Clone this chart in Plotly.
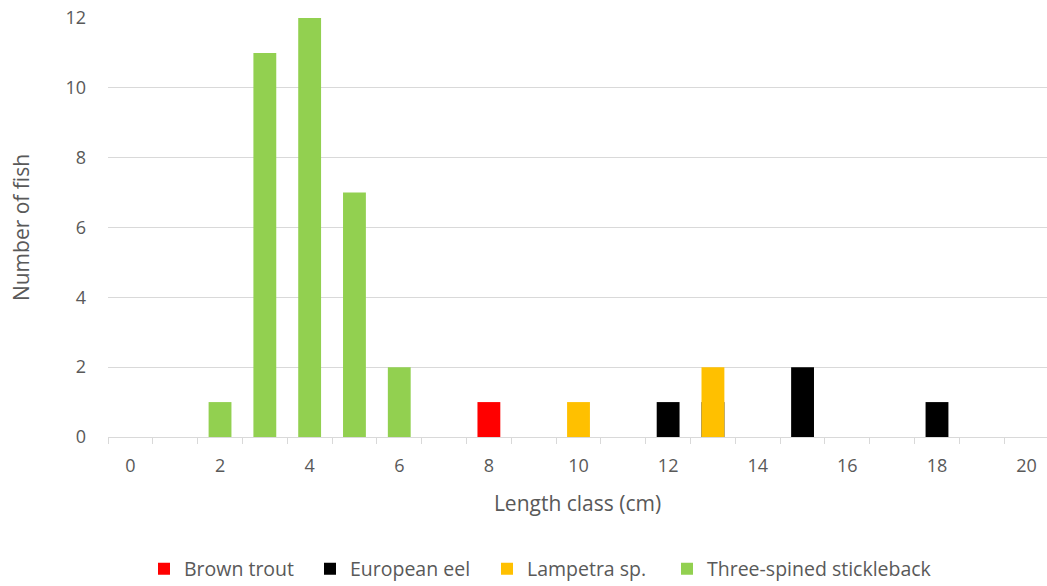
import plotly.graph_objects as go

# Length classes (cm) and counts per species
length_class = list(range(0, 21))
brown_trout = [0, 0, 0, 0, 0, 0, 0, 0, 1, 0, 0, 0, 0, 0, 0, 0, 0, 0, 0, 0, 0]
european_eel = [0, 0, 0, 0, 0, 0, 0, 0, 0, 0, 0, 0, 1, 1, 0, 2, 0, 0, 1, 0, 0]
lampetra = [0, 0, 0, 0, 0, 0, 0, 0, 0, 0, 1, 0, 0, 2, 0, 0, 0, 0, 0, 0, 0]
stickleback = [0, 0, 1, 11, 12, 7, 2, 0, 0, 0, 0, 0, 0, 0, 0, 0, 0, 0, 0, 0, 0]

x_tick_vals = list(range(0, 21, 2))
y_tick_vals = list(range(0, 13, 2))

series = [
    ("Brown trout", brown_trout, "#FF0000"),
    ("European eel", european_eel, "#000000"),
    ("Lampetra sp.", lampetra, "#FFC000"),
    ("Three-spined stickleback", stickleback, "#92D050"),
]

FONT = "Open Sans"
GREY = "#595959"
GRID = "#d9d9d9"
W, H = 1047, 586

# one single-entry legend per species, laid out in a row under the chart
legend_left_px = [144, 310, 487, 667]
legend_ids = ["legend", "legend2", "legend3", "legend4"]

fig = go.Figure()
for (name, values, color), lid in zip(series, legend_ids):
    fig.add_trace(go.Bar(
        x=length_class, y=values, name=name,
        marker=dict(color=color, line=dict(width=0)),
        width=0.51, legend=lid,
    ))

legend_layout = {}
for lid, px in zip(legend_ids, legend_left_px):
    legend_layout[lid] = dict(
        xref="container", yref="container",
        x=px / W, xanchor="left", y=1 - 569 / H, yanchor="middle",
        orientation="h", itemwidth=30,
        font=dict(family=FONT, size=19.5, color=GREY),
        bgcolor="rgba(0,0,0,0)",
    )

fig.update_layout(
    width=W, height=H,
    barmode="overlay",
    plot_bgcolor="white", paper_bgcolor="white",
    margin=dict(l=108, r=0, t=18, b=149),
    font=dict(family=FONT, color=GREY, size=18),
    showlegend=True,
    xaxis=dict(
        range=[-0.5, 20.455],
        tickmode="array", tickvals=x_tick_vals,
        ticktext=[str(v) for v in x_tick_vals],
        ticks="", showgrid=False, zeroline=False,
        showline=True, linecolor=GRID, linewidth=1,
        ticklabelstandoff=12,
        tickfont=dict(size=18, color=GREY),
        minor=dict(tick0=-0.5, dtick=1, ticks="outside", ticklen=6,
                   tickcolor=GRID, tickwidth=1, showgrid=False),
        title=dict(text="Length class (cm)", font=dict(size=21, color=GREY), standoff=20),
    ),
    yaxis=dict(
        range=[0, 12], tickmode="array", tickvals=y_tick_vals,
        showgrid=True, gridcolor=GRID, gridwidth=1,
        zeroline=False, ticks="", ticklabelstandoff=21,
        tickfont=dict(size=18, color=GREY),
        title=dict(text="Number of fish", font=dict(size=21, color=GREY), standoff=30),
    ),
    **legend_layout,
)

fig.write_html("out.html")
